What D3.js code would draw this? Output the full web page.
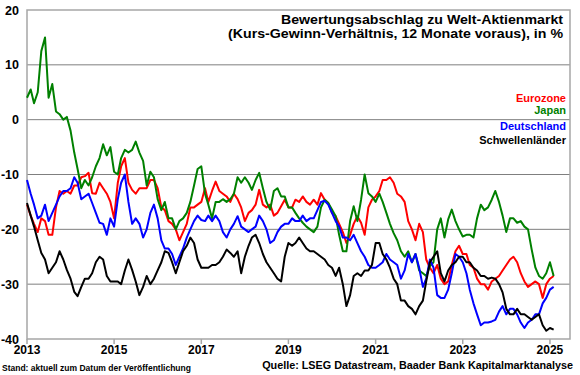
<!DOCTYPE html>
<html>
<head>
<meta charset="utf-8">
<script src="https://cdn.jsdelivr.net/npm/d3@7"></script>
<style>
  body { margin: 0; background: #fff; }
  svg { display: block; font-family: "Liberation Sans", Arial, sans-serif; font-weight: bold; }
</style>
</head>
<body>
<svg id="chart" width="580" height="375"></svg>
<script>
// monthly observations, first one January 2013
const firstMonth = new Date(2013, 0, 1);

const seriesNames = ["Eurozone", "Japan", "Deutschland", "Schwellenländer"];
const seriesColors = ["#ff0000", "#008000", "#0000ff", "#000000"];

const eurozone = [
  -15.5, -17.5, -19, -20.5, -18, -18.5, -21, -21, -16, -13, -13.5, -13,
  -13.5, -12, -12, -10.5, -10.3, -9.7, -13.4, -13.5, -11.5, -12.5, -13.5, -15,
  -18, -11.5, -8.5, -7, -11.5, -12.8, -13.5, -12.5, -12.5, -12.5, -11, -11,
  -12.5, -16, -16.5, -18.5, -19, -20, -22, -20.5, -19, -16, -16, -15.5,
  -15, -12.5, -15, -13, -11.3, -13, -13.5, -14, -15, -13.5, -14.5, -16,
  -18.5, -17, -16.5, -15.5, -12.8, -15.5, -16, -15.5, -17.5, -17, -15.8, -14.6,
  -16, -16, -14.6, -15, -14, -15, -15.5, -14.6, -15.5, -13.4, -14.6, -15.2,
  -17, -17.6, -19, -20.5, -22.5, -21, -19, -17.6, -18.8, -21, -16, -14.6,
  -14, -13, -11, -11, -10.5, -11.5, -13.5, -14, -15, -18.5, -20, -22,
  -19, -20.5, -25.5, -27, -28, -26.5, -29, -30, -29.5, -26.5, -24, -23,
  -24.5, -24.5, -26.5, -27, -29, -30, -30, -31, -29.5, -29, -28.5, -27.5,
  -26.5, -25.5, -25, -26, -28, -29.5, -30.5, -30, -29.5, -30, -32.5, -30,
  -29, -28.5
];

const japan = [
  4, 5.5, 3, 5, 12.5, 15, 4, 6.5, 1.5, 1, 0, 0.5,
  -2, -6, -9, -12.5, -11, -12, -10.5, -8.5, -7, -4.5, -6.5, -5,
  -9.5, -10, -7, -5.5, -6, -5.5, -4, -6, -7.5, -12, -9.5, -10.5,
  -14.5, -16.5, -15, -18, -18, -20, -18.5, -18, -17, -15, -12, -9,
  -8.5, -13.5, -15.5, -18, -15, -15, -14.5, -15, -14.5, -13.5, -10.5, -11.5,
  -10.5, -11.5, -12.8, -11, -9.7, -12.5, -15, -16.4, -13, -12.5, -14, -14,
  -16, -16, -17, -18, -18.8, -19.5, -20, -20.5, -19.5, -16, -14.6, -15.2,
  -16.4, -17.6, -21, -24, -24, -18.5, -15.8, -18.5, -14.6, -10, -13.4, -14,
  -15, -13.5, -15, -17, -19, -20.7, -22, -24, -25, -24, -26, -24.5,
  -27.5, -28, -28.5, -26.7, -26, -20, -18, -21.5, -18.2, -16.4, -18.5, -20,
  -21.3, -21, -21, -21.5, -18, -15.5, -16.5, -16, -14.6, -13, -15, -17.5,
  -20.5, -18, -18, -18.8, -18.5, -19.5, -20, -23.7, -27, -28.5, -29, -28,
  -26, -28.5
];

const deutschland = [
  -11, -13.5, -15.5, -18, -17.5, -15.5, -18.5, -17, -15.5, -14, -13, -13,
  -12.5, -10.5, -11.5, -14.5, -14, -13.5, -15.2, -17, -18.8, -19, -21, -18,
  -19.5, -14.5, -11.5, -10, -15, -19, -18, -19, -21.5, -20, -17, -15.5,
  -18, -22, -23.5, -23.5, -24.5, -26.5, -25, -23.5, -21.5, -20, -18.5, -17.5,
  -18.3, -18.5, -17.5, -18.5, -17.5, -18.5, -20.5, -21.5, -20, -19, -17.6, -19.5,
  -20, -20.5, -20, -19.5, -17.5, -18.5, -20, -22.5, -22, -20.5, -19.5, -19,
  -19, -18, -18.5, -18.5, -17.5, -18.5, -18, -18, -16.5, -15, -14.8, -15.5,
  -17, -18.5, -19.5, -21.5, -21.5, -22, -21, -22.5, -24, -25, -26.5, -27,
  -27, -26.5, -26, -24.5, -25.5, -26, -26.5, -29, -27.5, -24.5, -26, -24.5,
  -27, -30.5, -29, -25.5, -27, -32, -32.5, -32.5, -31, -28, -24.5, -25,
  -26, -28, -31, -33.5, -35.5, -37.5, -37, -37, -36.8, -36.5, -35, -34,
  -35.5, -34.5, -34.5, -35.5, -37, -38, -37, -36.5, -35.5, -35.5, -33.5, -32.5,
  -31, -30.5
];

const schwellenlaender = [
  -15.2, -17.5, -19.5, -22, -24.3, -25.5, -28, -27, -26, -24, -25.5, -27.4,
  -29, -31.4, -32.2, -30.5, -29, -29, -28, -26, -25, -25.5, -28.5, -29.5,
  -29.5, -29.5, -30, -27.5, -25.5, -27.4, -29.5, -32, -30.5, -28.5, -30, -29,
  -27.5, -26, -24, -24.3, -26, -28, -26, -24, -23, -21.5, -22.5, -25.5,
  -27, -27, -27, -26.5, -26.5, -26, -25, -23.7, -24.3, -25, -24, -28,
  -25, -23, -21.5, -21, -22.5, -24.5, -26, -27, -28, -29, -29.5, -25,
  -22.5, -23, -22.5, -21.5, -22.5, -23.5, -24, -24, -24.5, -25, -25.5, -26.5,
  -27, -28.5, -27, -30, -34, -32, -28.5, -28, -28.5, -27.5, -27.5, -26.5,
  -22.5, -22.5, -24.5, -25.5, -27, -29, -30, -33, -33, -34, -34.5, -35.5,
  -34, -33, -29.5, -26, -25, -24, -28, -29.5, -27.5, -26.5, -26, -25,
  -25, -26, -26, -27, -27.5, -28.5, -28.5, -29, -28.8, -29, -30, -31.5,
  -34.5, -35.5, -35.5, -34.5, -35.5, -35.5, -36, -36.5, -36, -35.5, -37.5, -38.5,
  -38, -38.3
];

const yTicks = [-40, -30, -20, -10, 0, 10, 20];
const xTickYears = [2013, 2015, 2017, 2019, 2021, 2023, 2025];

const titleLines = [
  "Bewertungsabschlag zu Welt-Aktienmarkt",
  "(Kurs-Gewinn-Verhältnis, 12 Monate voraus), in %"
];
const sourceText = "Quelle: LSEG Datastream, Baader Bank Kapitalmarktanalyse";
const standText = "Stand: aktuell zum Datum der Veröffentlichung";

(function () {
  "use strict";

  const left = 27, right = 570, top = 10, bottom = 339;
  const svg = d3.select("#chart");

  const x = d3.scaleTime()
    .domain([new Date(2013, 0, 1), new Date(2025, 5, 18)])
    .range([left, right]);
  const y = d3.scaleLinear().domain([-40, 20]).range([bottom, top]);

  // grid
  svg.append("g")
    .selectAll("line")
    .data(yTicks.filter((v) => v > -40 && v < 20))
    .join("line")
    .attr("x1", left).attr("x2", right)
    .attr("y1", (d) => y(d)).attr("y2", (d) => y(d))
    .attr("stroke", "#7f7f7f").attr("stroke-width", 1);

  // frame
  svg.append("rect")
    .attr("x", left).attr("y", top)
    .attr("width", right - left).attr("height", bottom - top)
    .attr("fill", "none").attr("stroke", "#a6a6a6").attr("stroke-width", 1.5);

  // y labels
  svg.append("g")
    .selectAll("text")
    .data(yTicks)
    .join("text")
    .attr("x", 19).attr("y", (d) => y(d)).attr("dy", "0.36em")
    .attr("text-anchor", "end").attr("font-size", 12.5)
    .text((d) => d);

  // x axis ticks + labels
  const xDates = xTickYears.map((yr) => new Date(yr, 0, 1));
  svg.append("g")
    .selectAll("line")
    .data(xDates)
    .join("line")
    .attr("x1", (d) => x(d)).attr("x2", (d) => x(d))
    .attr("y1", bottom).attr("y2", bottom + 5)
    .attr("stroke", "#a6a6a6").attr("stroke-width", 1.5);
  svg.append("g")
    .selectAll("text")
    .data(xDates)
    .join("text")
    .attr("x", (d) => x(d)).attr("y", 354)
    .attr("text-anchor", "middle").attr("font-size", 12)
    .text((d) => d3.timeFormat("%Y")(d));

  // series
  const allSeries = [eurozone, japan, deutschland, schwellenlaender];
  const line = d3.line()
    .x((d, i) => x(d3.timeMonth.offset(firstMonth, i)))
    .y((d) => y(d));

  svg.append("g")
    .selectAll("path")
    .data(allSeries)
    .join("path")
    .attr("d", line)
    .attr("fill", "none")
    .attr("stroke", (d, i) => seriesColors[i])
    .attr("stroke-width", 2)
    .attr("stroke-linejoin", "round");

  // title, stretched a little to the width of the original
  const titleWidths = [282, 335];
  svg.append("g")
    .selectAll("text")
    .data(titleLines)
    .join("text")
    .attr("x", 563).attr("y", (d, i) => 23.5 + i * 14.5)
    .attr("text-anchor", "end").attr("font-size", 13)
    .attr("textLength", (d, i) => titleWidths[i])
    .attr("lengthAdjust", "spacingAndGlyphs")
    .text((d) => d);

  // legend
  const legendY = [101.5, 114, 130, 143.5];
  svg.append("g")
    .selectAll("text")
    .data(seriesNames)
    .join("text")
    .attr("x", 566).attr("y", (d, i) => legendY[i])
    .attr("text-anchor", "end").attr("font-size", 11)
    .attr("fill", (d, i) => seriesColors[i])
    .text((d) => d);

  svg.append("text")
    .attr("x", 573).attr("y", 369)
    .attr("text-anchor", "end").attr("font-size", 10.8)
    .text(sourceText);

  svg.append("text")
    .attr("x", 2).attr("y", 371)
    .attr("font-size", 8.5)
    .text(standText);
})();
</script>
</body>
</html>
